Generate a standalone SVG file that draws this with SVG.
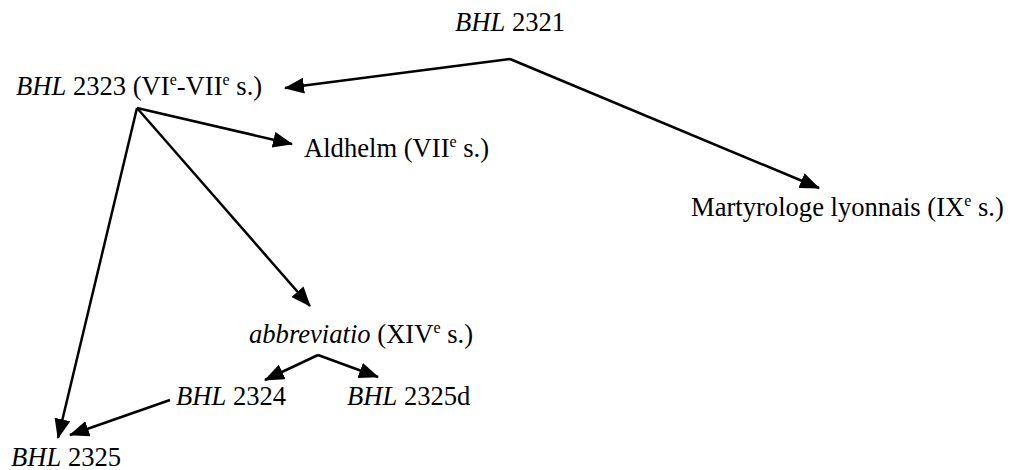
<svg xmlns="http://www.w3.org/2000/svg" width="1010" height="470" viewBox="0 0 1010 470">
<style>
text{font-family:'Liberation Serif','Times New Roman',serif;font-size:26.6px;fill:#000}
.i{font-style:italic}
.sup{font-size:16px}
.c{stroke:#000;stroke-width:2.5;fill:none;marker-end:url(#ah)}
</style>
<defs>
<marker id="ah" markerUnits="userSpaceOnUse" markerWidth="22" markerHeight="18" refX="19" refY="8" orient="auto"><path d="M0,0 L20,8 L0,16 z" fill="#000"/></marker>
</defs>
<g id="connectors">
<path class="c" d="M510,59 L285,88"/>
<path class="c" d="M510,59 L819,188"/>
<path class="c" d="M137,108 L292,144"/>
<path class="c" d="M137,108 L310,306"/>
<path class="c" d="M137,108 L58,438"/>
<path class="c" d="M318,355 L265,380"/>
<path class="c" d="M318,355 L378,377"/>
<path class="c" d="M170,400 L70,435"/>
</g>
<g id="bhl2321"><text x="455" y="31"><tspan class="i">BHL</tspan> 2321</text></g>
<g id="bhl2323"><text x="16" y="95"><tspan class="i">BHL</tspan> 2323 (VI<tspan class="sup" dy="-10">e</tspan><tspan dy="10">-VII</tspan><tspan class="sup" dy="-10">e</tspan><tspan dy="10"> s.)</tspan></text></g>
<g id="martyrologe"><text x="691" y="216">Martyrologe lyonnais (IX<tspan class="sup" dy="-10">e</tspan><tspan dy="10"> s.)</tspan></text></g>
<g id="aldhelm"><text x="304" y="157">Aldhelm (VII<tspan class="sup" dy="-10">e</tspan><tspan dy="10"> s.)</tspan></text></g>
<g id="abbreviatio"><text x="249" y="343"><tspan class="i">abbreviatio</tspan> (XIV<tspan class="sup" dy="-10">e</tspan><tspan dy="10"> s.)</tspan></text></g>
<g id="bhl2324"><text x="176" y="405"><tspan class="i">BHL</tspan> 2324</text></g>
<g id="bhl2325d"><text x="347" y="405"><tspan class="i">BHL</tspan> 2325d</text></g>
<g id="bhl2325"><text x="11" y="466"><tspan class="i">BHL</tspan> 2325</text></g>
</svg>
